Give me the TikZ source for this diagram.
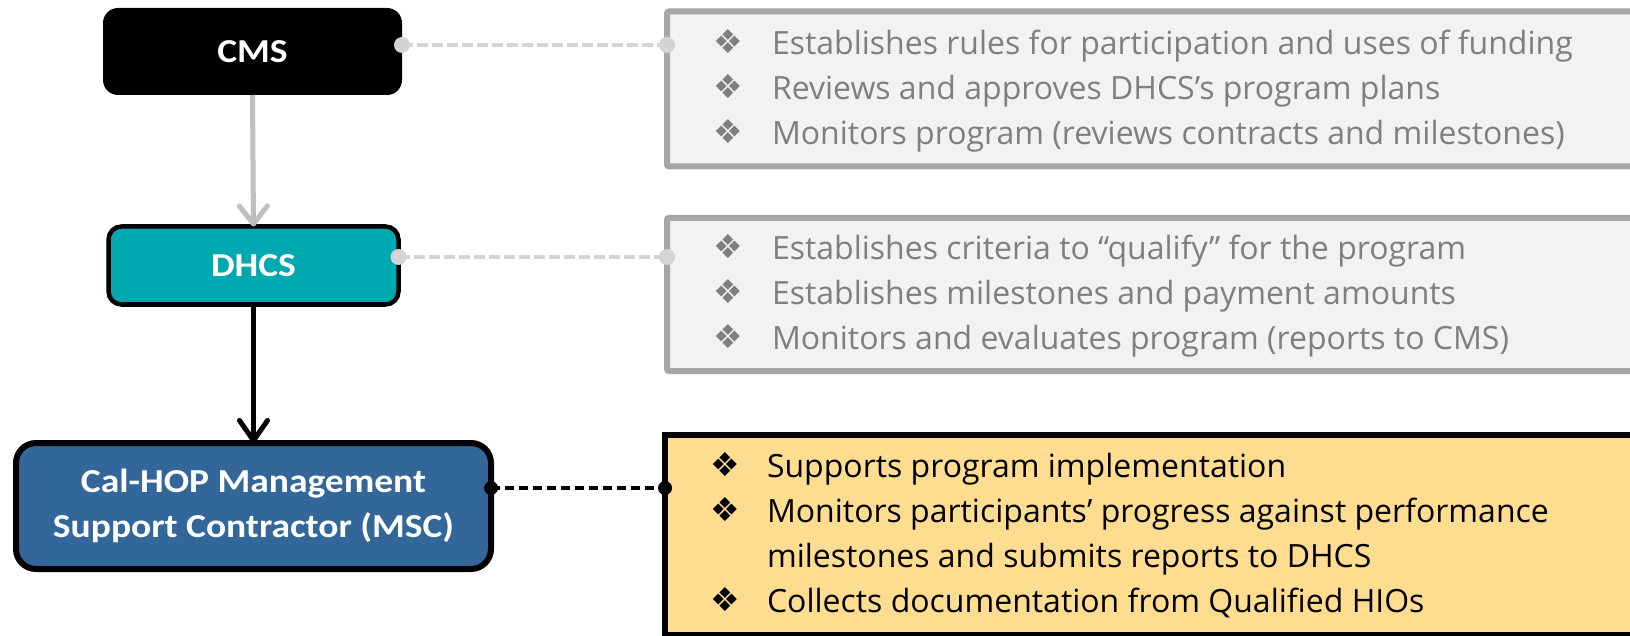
\documentclass[tikz,border=0pt]{standalone}
\usepackage{fontspec}
\setmainfont{Open Sans}
\newfontfamily\listfont{Open Sans}
\newfontfamily\nodefont[FakeStretch=1.12]{Carlito}
\newfontfamily\symfont{DejaVu Sans}
\usetikzlibrary{arrows.meta,calc}
\definecolor{tealfill}{HTML}{00A8B0}
\definecolor{mscblue}{HTML}{336699}
\definecolor{yellowfill}{HTML}{FEDD90}
\definecolor{grayfill}{HTML}{F2F2F2}
\definecolor{grayborder}{HTML}{A6A6A6}
\definecolor{graytext}{HTML}{7F7F7F}
\definecolor{grayline}{HTML}{D4D4D4}
\definecolor{grayarrow}{HTML}{BFBFBF}
\newcommand{\bul}[1]{\makebox[#1][l]{\raisebox{1pt}{\symfont\fontsize{33}{33}\selectfont ❖}}}
\begin{document}
\begin{tikzpicture}[x=1pt,y=-1pt,
  every node/.style={outer sep=0pt, inner sep=0pt},
  orgbox/.style={text=white, font=\nodefont\bfseries\fontsize{33.5}{45}\selectfont, align=center},
  cmsbox/.style={orgbox, fill=black, rounded corners=15pt, minimum width=299pt, minimum height=87pt},
  dhcsbox/.style={orgbox, fill=tealfill, draw=black, line width=4.5pt, rounded corners=13pt, minimum width=290pt, minimum height=78pt},
  mscbox/.style={orgbox, fill=mscblue, draw=black, line width=6pt, rounded corners=20pt, minimum width=475pt, minimum height=126pt},
  graybox/.style={fill=grayfill, draw=grayborder, line width=6pt, rounded corners=2pt, anchor=north west, minimum width=1100pt},
  yellowbox/.style={fill=yellowfill, draw=black, line width=6pt, anchor=north west, minimum width=1100pt},
  listtext/.style={anchor=base west, font=\listfont\fontsize{32}{45}\selectfont},
  graydash/.style={draw=grayline, line width=4.5pt, dash pattern=on 11pt off 4pt},
  blackdash/.style={draw=black, line width=3.5pt, dash pattern=on 9pt off 5pt},
  grayarr/.style={draw=grayarrow, line width=5pt, -{Straight Barb[length=18pt,width=28pt,round]}},
  blackarr/.style={draw=black, line width=5pt, -{Straight Barb[length=20pt,width=28pt,round]}}
]
\path[use as bounding box, clip] (0,0) rectangle (1630,636);
\fill[white] (0,0) rectangle (1630,636);

% organisation boxes
\node[cmsbox] (cms) at (252.5,51.5) {CMS};
\node[dhcsbox] (dhcs) at (253.5,265.5) {DHCS};
\node[mscbox] (msc) at (253.5,506) {Cal-HOP Management\\Support Contractor (MSC)};

% description boxes
\node[graybox, minimum height=155pt] (g1) at (667,11.5) {};
\node[graybox, minimum height=153pt] (g2) at (667,218) {};
\node[yellowbox, minimum height=200pt] (y1) at (665,435) {};

\node[listtext, text=graytext] (g1t) at (713,55) {\begin{tabular}[t]{@{}l@{}l@{}}
\bul{59pt} & Establishes rules for participation and uses of funding\\
\bul{59pt} & Reviews and approves DHCS’s program plans\\
\bul{59pt} & Monitors program (reviews contracts and milestones)
\end{tabular}};
\node[listtext, text=graytext] (g2t) at (713,260) {\begin{tabular}[t]{@{}l@{}l@{}}
\bul{59pt} & Establishes criteria to “qualify” for the program\\
\bul{59pt} & Establishes milestones and payment amounts\\
\bul{59pt} & Monitors and evaluates program (reports to CMS)
\end{tabular}};
\node[listtext, text=black] (y1t) at (710,477) {\begin{tabular}[t]{@{}l@{}l@{}}
\bul{57pt} & Supports program implementation\\
\bul{57pt} & Monitors participants’ progress against performance\\
 & milestones and submits reports to DHCS\\
\bul{57pt} & Collects documentation from Qualified HIOs
\end{tabular}};

% arrows
\draw[grayarr] (cms.south) -- (dhcs.north);
\draw[blackarr] (dhcs.south) -- (msc.north);

% dashed connectors
\coordinate (c1) at ([yshift=6.5pt]cms.east);
\coordinate (c2) at ([yshift=8.5pt]dhcs.east);
\coordinate (c3) at ([yshift=18pt]msc.east);
\coordinate (d1) at (c1 -| g1.west);
\coordinate (d2) at (c2 -| g2.west);
\coordinate (d3) at (c3 -| y1.west);
\draw[graydash] (c1) -- (d1);
\draw[graydash] (c2) -- (d2);
\draw[blackdash] (c3) -- (d3);
\fill[grayline] (c1) circle (8pt) (d1) circle (8pt) (c2) circle (8pt) (d2) circle (8pt);
\fill[black] (c3) circle (7pt) (d3) circle (7pt);
\end{tikzpicture}
\end{document}
